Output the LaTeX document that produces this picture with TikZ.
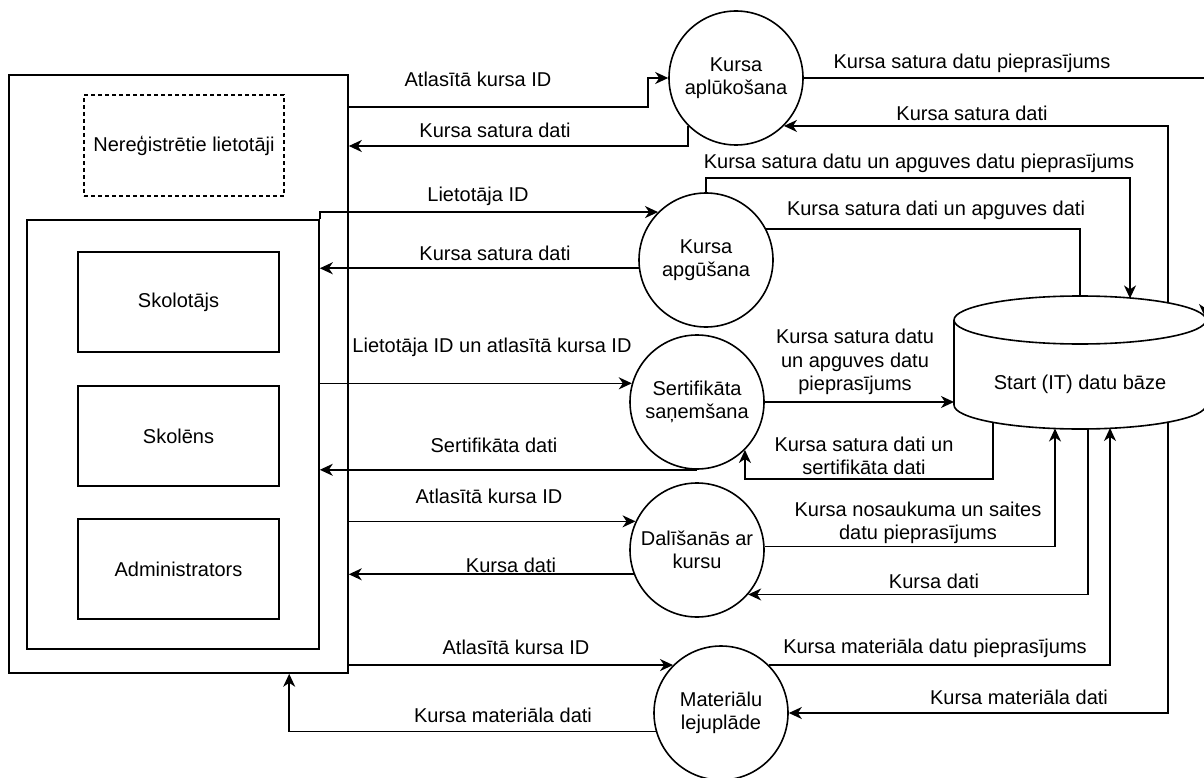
\documentclass[tikz,border=0pt]{standalone}
\usepackage{fontspec}
\setmainfont{Liberation Sans}
\usetikzlibrary{arrows.meta,calc}
\begin{document}
\begin{tikzpicture}[x=1pt,y=-1pt,
  every node/.style={font=\fontsize{20}{23.5}\selectfont},
  ln/.style={line width=1.6pt,line join=miter},
  flow/.style={ln,-{Stealth[length=13pt,width=12pt,inset=4pt]}},
  proc/.style={ln,draw,circle,minimum size=134pt,inner sep=0pt,align=center},
  actor/.style={ln,draw,rectangle,minimum width=201pt,minimum height=100pt,inner sep=0pt},
  lbl/.style={inner sep=0pt,align=center}]
\useasboundingbox (0,0) rectangle (1204,778);
\clip (0,0) rectangle (1204,778);
\fill[white] (0,0) rectangle (1204,778);

% external entities
\node[ln,draw,rectangle,minimum width=339pt,minimum height=598pt,inner sep=0pt] (users) at (178.5,374) {};
\node[ln,draw,rectangle,dash pattern=on 4pt off 3pt,minimum width=200pt,minimum height=101pt,inner sep=0pt] (nereg) at (184,145.5) {Nereģistrētie lietotāji};
\node[ln,draw,rectangle,minimum width=292pt,minimum height=429pt,inner sep=0pt] (reg) at (173,434.5) {};
\node[actor] (skol) at (178.5,302) {Skolotājs};
\node[actor] (skln) at (178.5,436) {Skolēns};
\node[actor] (adm) at (178.5,569) {Administrators};

% processes
\node[proc] (apl) at (736,78) {Kursa\\aplūkošana};
\node[proc] (apg) at (706,260) {Kursa\\apgūšana};
\node[proc] (ser) at (697,402) {Sertifikāta\\saņemšana};
\node[proc] (dal) at (697,550) {Dalīšanās ar\\kursu};
\node[proc] (mat) at (721,713) {Materiālu\\lejuplāde};

% data store (cylinder)
\draw[ln] (954,320) -- (954,405) arc[start angle=180,end angle=360,x radius=126pt,y radius=24pt] -- (1206,320);
\draw[ln,fill=white] (1080,320) ellipse [x radius=126pt,y radius=24pt];
\node (db) at (1080,384) {Start (IT) datu bāze};
\coordinate (dbL) at (954,402);
\coordinate (dbT1) at (1130,298.4);
\coordinate (dbT2) at (1080,296.5);
\coordinate (dbT3) at (1168,303);
\coordinate (dbTR) at (1205,317);
\coordinate (dbB1) at (993,422);
\coordinate (dbB2) at (1055,428.5);
\coordinate (dbB3) at (1088,428);
\coordinate (dbB4) at (1110,428);
\coordinate (dbB5) at (1168,422);
\coordinate (uB) at ($(users.south west)!0.825!(users.south east)$);

% connectors
\draw[flow] (users.east |- 0,107) -- (648,107) |- (apl.west);
\draw[flow] (apl.south west) |- (users.east |- 0,146);
\draw[flow] (reg.north east) |- (apg.135);
\draw[flow] (apg.187) -- (reg.east |- apg.187);
\draw[flow] (apg.north) -- ++(0,-14) -| (dbT1);
\draw[ln] (apg.27.6) -| (dbT2);
\draw[flow] (apl.east) -- (1205,78) -- (dbTR);
\draw[flow] (dbT3) |- (apl.-45);
\draw[flow] (reg.east |- ser.164.4) -- (ser.164.4);
\draw[flow] (ser.south) -- (reg.east |- ser.south);
\draw[flow] (ser.east) -- (dbL);
\draw[flow] (dbB1) -- (dbB1 |- 0,479) -| (ser.-45);
\draw[flow] (users.east |- dal.155) -- (dal.155);
\draw[flow] (dal.201) -- (users.east |- dal.201);
\draw[flow] (dal.3) -| (dbB2);
\draw[flow] (dbB3) |- (dal.-41);
\draw[flow] (mat.45) -| (dbB4);
\draw[flow] (dbB5) |- (mat.east);
\draw[flow] (users.east |- mat.135) -- (mat.135);
\draw[flow] (mat.196.5) -| (uB);

% labels
\node[lbl] (l1) at (478,79) {Atlasītā kursa ID};
\node[lbl] (l2) at (495,130) {Kursa satura dati};
\node[lbl] (l3) at (478,196) {Lietotāja ID};
\node[lbl] (l4) at (495,253) {Kursa satura dati};
\node[lbl] (l5) at (919,163) {Kursa satura datu un apguves datu pieprasījums};
\node[lbl] (l6) at (936,210) {Kursa satura dati un apguves dati};
\node[lbl] (l7) at (972,63) {Kursa satura datu pieprasījums};
\node[lbl] (l8) at (972,113) {Kursa satura dati};
\node[lbl] (l9) at (492,347) {Lietotāja ID un atlasītā kursa ID};
\node[lbl] (l10) at (494,445) {Sertifikāta dati};
\node[lbl] (l11) at (855,362) {Kursa satura datu\\un apguves datu\\pieprasījums};
\node[lbl] (l12) at (864,456) {Kursa satura dati un\\sertifikāta dati};
\node[lbl] (l13) at (489,496) {Atlasītā kursa ID};
\node[lbl] (l14) at (511,565) {Kursa dati};
\node[lbl] (l15) at (918,523) {Kursa nosaukuma un saites\\datu pieprasījums};
\node[lbl] (l16) at (934,581) {Kursa dati};
\node[lbl] (l17) at (935,648) {Kursa materiāla datu pieprasījums};
\node[lbl] (l18) at (1019,697) {Kursa materiāla dati};
\node[lbl] (l19) at (516,647) {Atlasītā kursa ID};
\node[lbl] (l20) at (503,715) {Kursa materiāla dati};
\end{tikzpicture}
\end{document}
